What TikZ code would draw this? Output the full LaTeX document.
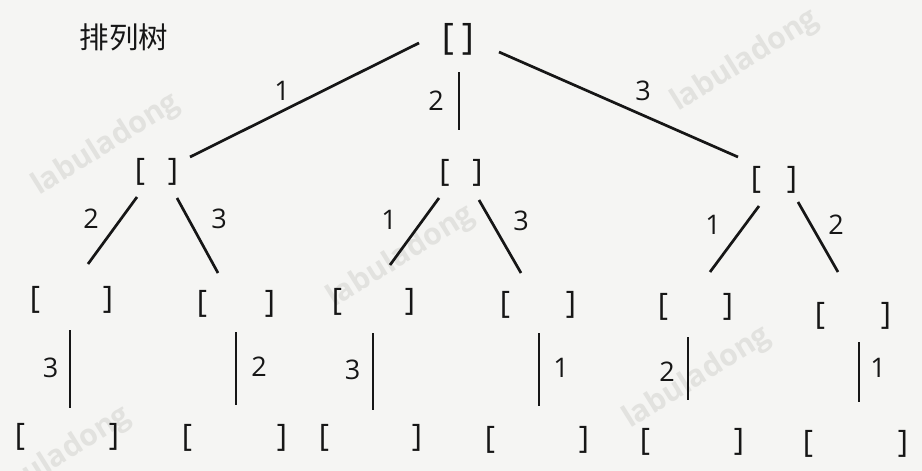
\documentclass[tikz,border=0pt]{standalone}
\usepackage{fontspec}
\setmainfont{Open Sans}
\newfontfamily\cjkfont{Noto Sans CJK SC}
\newfontfamily\wmfont{Open Sans}
\definecolor{bgcol}{RGB}{245,245,243}
\definecolor{wmcol}{RGB}{226,226,223}
\definecolor{ink}{RGB}{22,22,22}
\newcommand\br[1]{[\hspace{#1}]}
\begin{document}
\begin{tikzpicture}[x=1pt,y=-1pt,
  tnode/.style={inner sep=0pt, outer sep=0pt, text=ink, font=\fontsize{31}{31}\selectfont, text height=22.1pt, text depth=5pt},
  rootnode/.style={tnode, font=\fontsize{36.5}{36.5}\selectfont, text height=26.1pt, text depth=5.8pt},
  lab/.style={inner sep=0pt, outer sep=0pt, text=ink, font=\fontsize{27}{27}\selectfont, text height=19.3pt, text depth=0pt},
  edgeline/.style={line width=2.7pt, draw=ink},
  wm/.style={rotate=32, text=wmcol, font=\wmfont\bfseries\fontsize{30}{30}\selectfont}]
\newcommand\tedge[4]{\draw[edgeline] ([shift={(#2)}]#1.center) -- ([shift={(#4)}]#3.center);}
\useasboundingbox (0,0) rectangle (922,471);
\fill[bgcol] (0,0) rectangle (922,471);
% watermarks
\node[wm] (wm1) at (106,145) {labuladong};
\node[wm] (wm2) at (745,61) {labuladong};
\node[wm] (wm3) at (401,257) {labuladong};
\node[wm] (wm4) at (697,378) {labuladong};
\node[wm] (wm5) at (57,458) {labuladong};
% title
\node[inner sep=0pt, text=ink, font=\cjkfont\fontsize{29.5}{29.5}\selectfont] (title) at (124,37) {排列树};
% tree nodes
\node[rootnode] (root) at (458,39) {\br{8pt}};
\node[tnode] (n1) at (156.5,172) {\br{23pt}};
\node[tnode] (n2) at (461,172.5) {\br{23pt}};
\node[tnode] (n3) at (774,180) {\br{26pt}};
\node[tnode] (a) at (71.5,300) {\br{63pt}};
\node[tnode] (b) at (236,304) {\br{58pt}};
\node[tnode] (c) at (373.5,302) {\br{63pt}};
\node[tnode] (d) at (538,305) {\br{56pt}};
\node[tnode] (e) at (695.5,306.5) {\br{55pt}};
\node[tnode] (f) at (853,316) {\br{56pt}};
\node[tnode] (a3) at (67,436.5) {\br{84pt}};
\node[tnode] (b3) at (234.5,438) {\br{85pt}};
\node[tnode] (c3) at (370.5,438) {\br{83pt}};
\node[tnode] (d3) at (537,440) {\br{84pt}};
\node[tnode] (e3) at (692,442) {\br{84pt}};
\node[tnode] (f3) at (855.5,443.5) {\br{85pt}};
% edges
\tedge{root}{-39,4}{n1}{33.5,-15}
\tedge{root}{1,33}{n2}{-2,-42.5}
\tedge{root}{41,13}{n3}{-36,-23}
\tedge{n1}{-19.5,25}{a}{16.5,-36}
\tedge{n1}{20.5,26}{b}{-18,-31}
\tedge{n2}{-22,25.5}{c}{16.5,-37}
\tedge{n2}{18,27.5}{d}{-17,-32}
\tedge{n3}{-15,26}{e}{14.5,-34.5}
\tedge{n3}{24,22}{f}{-15,-44}
\tedge{a}{-1.5,30}{a3}{3,-28.5}
\tedge{b}{0,28}{b3}{1.5,-33}
\tedge{c}{-0.5,31}{c3}{2.5,-28}
\tedge{d}{1,28}{d3}{2,-34}
\tedge{e}{-7.5,30.5}{e3}{-4,-42}
\tedge{f}{6,26}{f3}{3.5,-41.5}
% edge labels
\node[lab] (l1) at (282,91) {1};
\node[lab] (l2) at (436,101) {2};
\node[lab] (l3) at (643,91) {3};
\node[lab] (la) at (91,219) {2};
\node[lab] (lb) at (219,219) {3};
\node[lab] (lc) at (389,220) {1};
\node[lab] (ld) at (521,221) {3};
\node[lab] (le) at (713,225) {1};
\node[lab] (lf) at (836,225) {2};
\node[lab] (la3) at (50.5,368) {3};
\node[lab] (lb3) at (259,367) {2};
\node[lab] (lc3) at (352.5,370) {3};
\node[lab] (ld3) at (561,368) {1};
\node[lab] (le3) at (667,372) {2};
\node[lab] (lf3) at (878,368) {1};
\end{tikzpicture}
\end{document}
